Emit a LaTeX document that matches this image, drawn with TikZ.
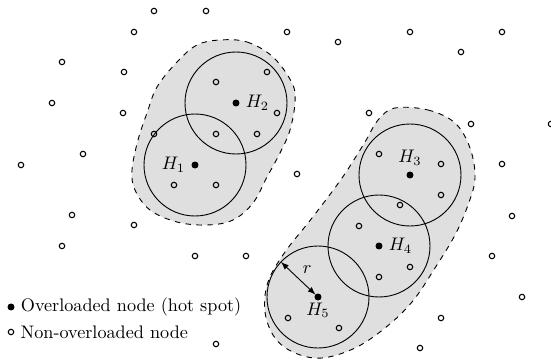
\documentclass[tikz,border=0pt]{standalone}
\usepackage{amsmath,amssymb}
\usetikzlibrary{arrows}
\tikzstyle{hot} = [draw, fill=black, circle, inner sep=0pt, minimum size=3.4pt]
\tikzstyle{plain} = [draw, circle, inner sep=0pt, minimum size=3pt, line width=0.6pt]
\tikzstyle{rangecircle} = [draw, line width=0.5pt]
\tikzstyle{cluster} = [draw, dashed, fill=gray!25, line width=0.5pt]

\begin{document}
\begin{tikzpicture}[x=0.55pt, y=-0.55pt, >=latex]
    \useasboundingbox (0,0) rectangle (551,361);
    % clusters of hot spots
    \draw[cluster] plot[smooth cycle, tension=0.6] coordinates {(220,40) (247,42) (273,57) (292,83) (295,102) (290,130) (280,153) (267,177) (253,203) (233,220) (207,225) (177,222) (150,210) (135,190) (132,170) (138,140) (147,113) (157,87) (177,62) (197,45)};
    \draw[cluster] plot[smooth cycle, tension=0.6] coordinates {(395,108) (428,110) (455,123) (470,148) (475,178) (468,205) (455,235) (435,268) (412,302) (385,328) (355,348) (322,358) (295,353) (275,338) (265,312) (268,282) (285,252) (312,218) (342,178) (365,142) (378,120)};

    % hot spots
    \node[hot] (h1) at (195,165) {};
    \node[hot] (h2) at (236,103) {};
    \node[hot] (h3) at (410,175) {};
    \node[hot] (h4) at (379,246) {};
    \node[hot] (h5) at (318,297) {};
    \node[left] at (h1.west) {$H_1$};
    \node[right] at (h2.east) {$H_2$};
    \node[above] at (h3.north) {$H_3$};
    \node[right] at (h4.east) {$H_4$};
    \node[below, inner sep=1pt] at (h5.south) {$H_5$};
    \foreach \h in {h1,h2,h3,h4,h5}
        \draw[rangecircle] (\h) circle (51);

    % other nodes
    \foreach \x/\y [count=\i] in {154/11, 206/11, 134/32, 62/62, 124/72, 52/103, 123/113, 83/154, 21/165,
        72/215, 134/225, 62/246, 195/256, 246/256, 216/344, 287/32, 338/42, 410/32, 502/32, 461/52,
        369/113, 471/124, 551/124, 502/164, 297/174, 512/216, 492/256, 522/297, 441/318, 420/348,
        216/82, 267/72, 277/113, 154/134, 216/134, 257/134, 174/185, 216/185,
        379/154, 441/164, 441/195, 400/205, 359/226, 410/267, 379/277, 288/318, 339/328}
        \node[plain] (n\i) at (\x,\y) {};

    % radius
    \coordinate (redge) at (281,262);
    \draw[<->, line width=0.5pt] (redge) -- (h5) node[midway, above right=-1pt] {$r$};

    % legend
    \node[hot] (lhot) at (11,307) {};
    \node[plain] (lplain) at (11,332) {};
    \node[anchor=west] at (lhot.east) {Overloaded node (hot spot)};
    \node[anchor=west] at (lplain.east) {Non-overloaded node};
\end{tikzpicture}
\end{document}
